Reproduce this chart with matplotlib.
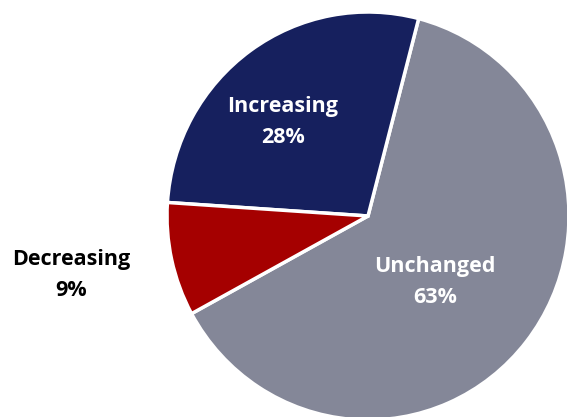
import numpy as np
import matplotlib.pyplot as plt

labels = ["Unchanged", "Increasing", "Decreasing"]
shares = [63, 28, 9]
colors = ["#848798", "#16205e", "#a50000"]
label_colors = ["white", "white", "black"]

W, H = 567, 417
fig = plt.figure(figsize=(W / 100, H / 100), dpi=100)
ax = fig.add_axes([0, 0, 1, 1])

# pie centre and radii in pixels (origin top-left)
cx, cy = 368.0, 216.0
rx, ry = 201.0, 204.0

ax.pie(shares, colors=colors, startangle=-151.4, counterclock=True,
       radius=1.0, wedgeprops=dict(edgecolor="white", linewidth=2.5))

ax.set_xlim(-cx / rx, (W - cx) / rx)
ax.set_ylim(-(H - cy) / ry, cy / ry)
ax.set_aspect("auto")
ax.axis("off")

# label centres in pixels
label_xy = [(435, 282), (283, 122), (71, 275)]
for lab, val, col, (px, py) in zip(labels, shares, label_colors, label_xy):
    ax.text((px - cx) / rx, (cy - py) / ry, f"{lab}\n{val}%",
            ha="center", va="center", color=col, fontsize=15.5,
            fontweight="bold", family=["Open Sans", "DejaVu Sans"],
            linespacing=1.6)

fig.savefig("out.png", dpi=100)
